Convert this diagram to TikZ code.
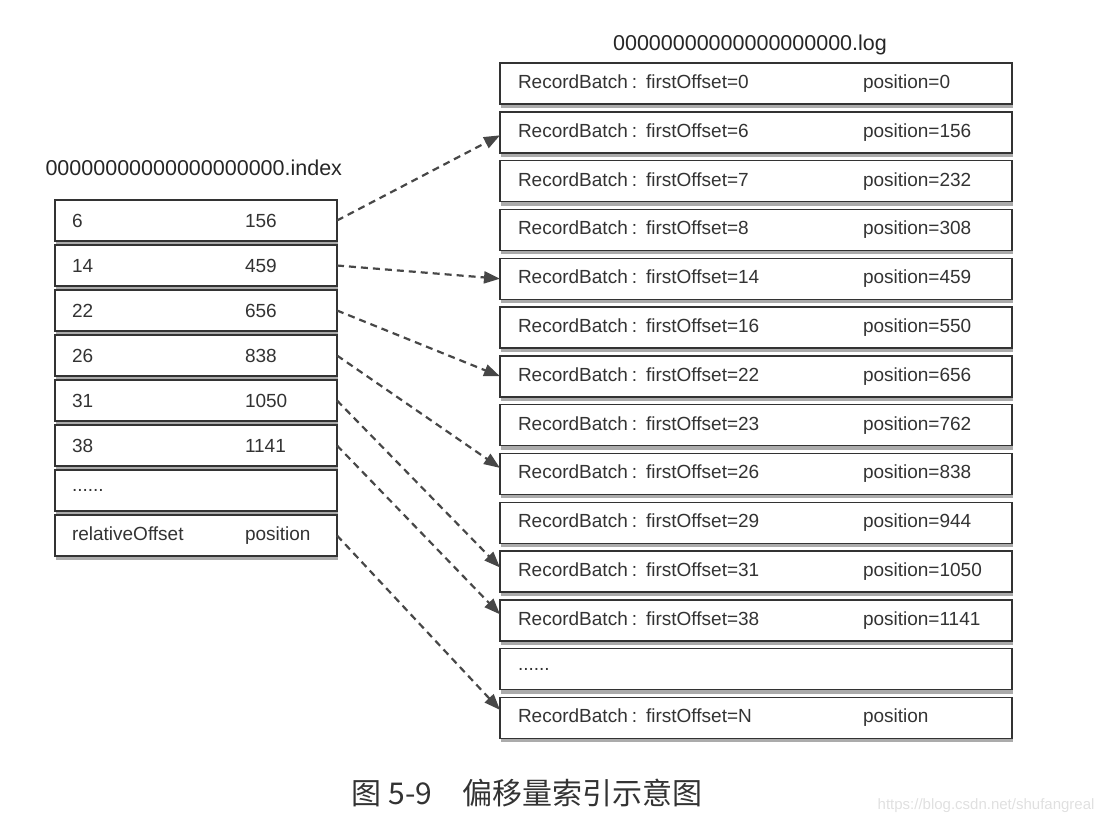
\documentclass[tikz,border=0pt]{standalone}
\usepackage{fontspec}
\setmainfont{Liberation Sans}
\newfontfamily\cjk{Noto Sans CJK SC}
\usetikzlibrary{positioning,shadows,arrows.meta}

\newcommand{\batch}[2]{\makebox[345pt][l]{RecordBatch\hspace{4pt}:\hspace{9pt}firstOffset=#1}#2}
\newcommand{\pair}[2]{\makebox[173pt][l]{#1}#2}

\tikzset{
  idxrow/.style={draw=black!80, line width=1.4pt, fill=white, text=black!80,
    text width=248pt, inner xsep=17pt, inner ysep=0pt, outer sep=0pt,
    minimum height=41pt, align=left, font=\fontsize{19}{21}\selectfont,
    drop shadow={shadow xshift=1pt, shadow yshift=-4pt, opacity=0.55, fill=black!60}},
  logrow/.style={idxrow, text width=476pt, inner xsep=18pt},
  ptr/.style={draw=black!72, line width=2.2pt, dash pattern=on 7pt off 5pt,
    -{Triangle[length=16pt,width=12pt]}},
  fname/.style={text=black!85, font=\fontsize{21.5}{24}\selectfont}
}

\begin{document}
\begin{tikzpicture}[x=1pt,y=-1pt]
\useasboundingbox (0,0) rectangle (1106,820);

% index file
\node[fname, anchor=base west] (idxname) at (42,175) {00000000000000000000.index};
\node[idxrow] (i1) at (196,220.5) {\pair{6}{156}};
\node[idxrow, below=4pt of i1] (i2) {\pair{14}{459}};
\node[idxrow, below=4pt of i2] (i3) {\pair{22}{656}};
\node[idxrow, below=4pt of i3] (i4) {\pair{26}{838}};
\node[idxrow, below=4pt of i4] (i5) {\pair{31}{1050}};
\node[idxrow, below=4pt of i5] (i6) {\pair{38}{1141}};
\node[idxrow, below=4pt of i6] (i7) {......};
\node[idxrow, below=4pt of i7] (i8) {\pair{relativeOffset}{position}};

% log file
\node[fname, anchor=base] (logname) at (750,50) {00000000000000000000.log};
\node[logrow] (r1) at (756,83.5) {\batch{0}{position=0}};
\node[logrow, below=7.8pt of r1] (r2) {\batch{6}{position=156}};
\node[logrow, below=7.8pt of r2] (r3) {\batch{7}{position=232}};
\node[logrow, below=7.8pt of r3] (r4) {\batch{8}{position=308}};
\node[logrow, below=7.8pt of r4] (r5) {\batch{14}{position=459}};
\node[logrow, below=7.8pt of r5] (r6) {\batch{16}{position=550}};
\node[logrow, below=7.8pt of r6] (r7) {\batch{22}{position=656}};
\node[logrow, below=7.8pt of r7] (r8) {\batch{23}{position=762}};
\node[logrow, below=7.8pt of r8] (r9) {\batch{26}{position=838}};
\node[logrow, below=7.8pt of r9] (r10) {\batch{29}{position=944}};
\node[logrow, below=7.8pt of r10] (r11) {\batch{31}{position=1050}};
\node[logrow, below=7.8pt of r11] (r12) {\batch{38}{position=1141}};
\node[logrow, below=7.8pt of r12] (r13) {......};
\node[logrow, below=7.8pt of r13] (r14) {\batch{N}{position}};

% pointers
\draw[ptr] (i1.east) -- ([yshift=-3pt]r2.west);
\draw[ptr] (i2.east) -- (r5.west);
\draw[ptr] (i3.east) -- (r7.west);
\draw[ptr] (i4.east) -- ([yshift=6pt]r9.west);
\draw[ptr] (i5.east) -- ([yshift=4pt]r11.west);
\draw[ptr] (i6.east) -- ([yshift=6pt]r12.west);
\draw[ptr] (i8.east) -- ([yshift=8pt]r14.west);

\node[text=black!80, font=\cjk\fontsize{30}{32}\selectfont] (caption) at (527,793)
  {图 5-9\hspace{30pt}偏移量索引示意图};
\node[anchor=base east, text=black!12, font=\fontsize{15}{16}\selectfont] (mark) at (1098,809)
  {https://blog.csdn.net/shufangreal};
\end{tikzpicture}
\end{document}
